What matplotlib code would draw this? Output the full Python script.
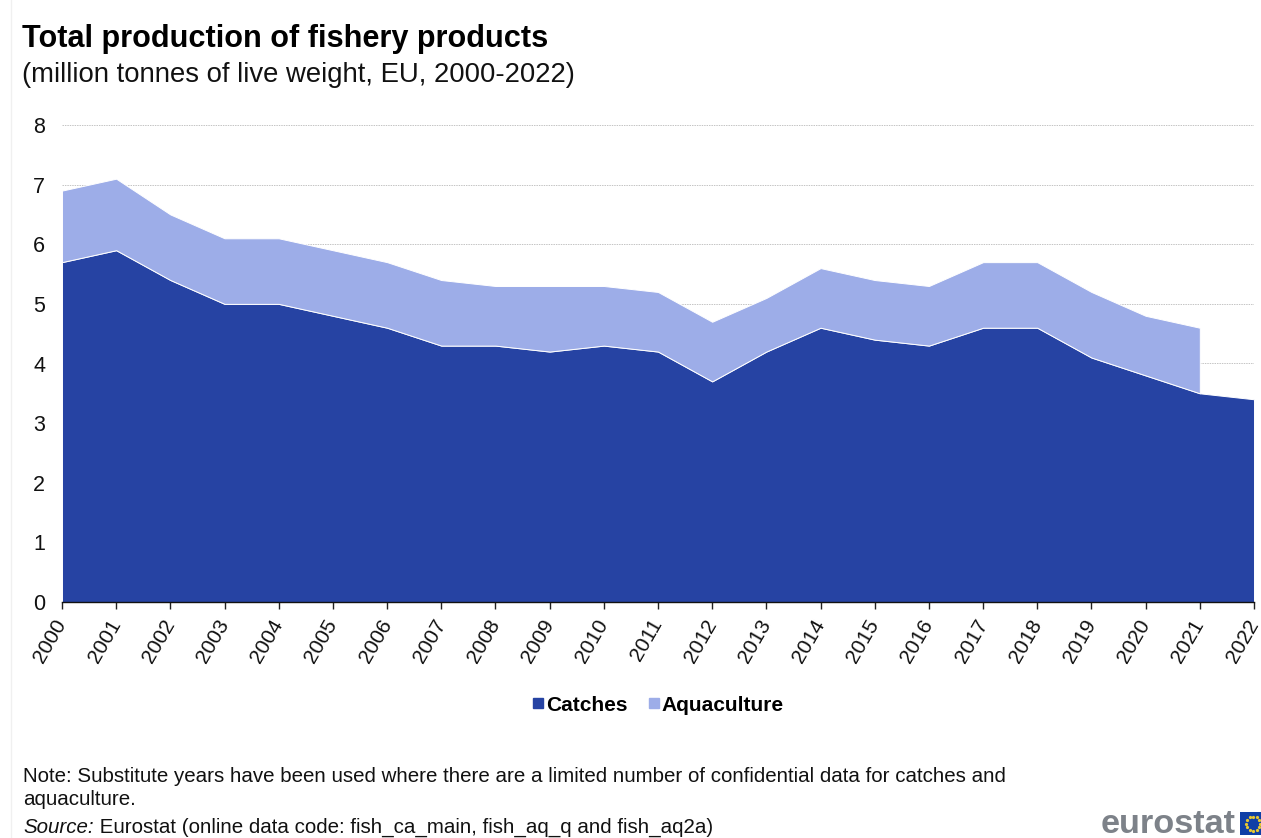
import numpy as np
import matplotlib.pyplot as plt
from matplotlib.patches import Rectangle
from matplotlib.lines import Line2D

plt.rcParams['font.family'] = ['Liberation Sans', 'DejaVu Sans']

W, H = 1261, 838

years = list(range(2000, 2023))
catches = [5.7, 5.9, 5.4, 5.0, 5.0, 4.8, 4.6, 4.3, 4.3, 4.2, 4.3, 4.2,
           3.7, 4.2, 4.6, 4.4, 4.3, 4.6, 4.6, 4.1, 3.8, 3.5, 3.4]
aquaculture = [1.2, 1.2, 1.1, 1.1, 1.1, 1.1, 1.1, 1.1, 1.0, 1.1, 1.0, 1.0,
               1.0, 0.9, 1.0, 1.0, 1.0, 1.1, 1.1, 1.1, 1.0, 1.1, np.nan]
y_ticks = [0, 1, 2, 3, 4, 5, 6, 7, 8]

title = 'Total production of fishery products'
subtitle = '(million tonnes of live weight, EU, 2000-2022)'
note = ('Note: Substitute years have been used where there are a limited number of confidential data for catches and\n'
        'aquaculture.')
source = ' Eurostat (online data code: fish_ca_main, fish_aq_q and fish_aq2a)'

DARK = '#2643a3'
LIGHT = '#9dade8'


def px(x, y):
    """ピクセル座標 (左上原点) を figure 座標に変換"""
    return x / W, 1 - y / H


fig = plt.figure(figsize=(W / 100, H / 100), dpi=100)
ax = fig.add_axes([62 / W, 1 - 602 / H, (1254 - 62) / W, (602 - 125) / H])

ax.stackplot(years, catches, aquaculture, colors=[DARK, LIGHT],
             edgecolor='white', linewidth=0.7, zorder=3)

ax.set_xlim(2000, 2022)
ax.set_ylim(0, 8)
ax.set_yticks(y_ticks)
ax.set_xticks(years)
ax.set_xticklabels(years, rotation=60, ha='right', va='center', rotation_mode='anchor')
ax.tick_params(axis='x', length=5, width=1, labelsize=15, pad=8.5, color='#222222', labelcolor='#111111')
ax.tick_params(axis='y', length=0, labelsize=15.5, pad=12, labelcolor='#111111')
ax.grid(axis='y', color='#c4c4c4', linestyle=(0, (1.5, 1)), linewidth=0.7, zorder=0)
ax.set_axisbelow(True)
for s in ['top', 'right', 'left']:
    ax.spines[s].set_visible(False)
ax.spines['bottom'].set_color('#111111')
ax.spines['bottom'].set_linewidth(1)
ax.spines['bottom'].set_zorder(5)

# 凡例
handles = [Line2D([], [], marker='s', linestyle='none', color=DARK, markersize=6.5),
           Line2D([], [], marker='s', linestyle='none', color=LIGHT, markersize=6.5)]
fig.legend(handles, ['Catches', 'Aquaculture'], loc='center', bbox_to_anchor=px(658, 705),
           ncol=2, frameon=False, handlelength=0.6, handletextpad=0.05, columnspacing=1.0,
           prop={'size': 15, 'weight': 'bold'})

# タイトル
fig.text(*px(22, 39), title, fontsize=22.1, fontweight='bold', va='center', color='black')
fig.text(*px(22, 75), subtitle, fontsize=19.8, va='center', color='#111111')

# 注記
fig.text(*px(23, 788), note, fontsize=14.8, va='center', color='#111111', linespacing=1.27)
t = fig.text(*px(23, 827), 'Source:', fontsize=14.8, style='italic', va='center', color='#111111')
fig.canvas.draw()
bb = t.get_window_extent()
fig.text(bb.x1 / W, 1 - 827 / H, source, fontsize=14.8, va='center', color='#111111')

# 左端の薄い縦線
fig.add_artist(Line2D([11 / W, 11 / W], [0, 1], color='#f0f0f0', linewidth=1))

# eurostat ロゴ
fig.text(*px(1236, 824), 'eurostat', fontsize=24.7, fontweight='bold', color='#7d8289', ha='right', va='center')
fx, fy = px(1240, 835)
fig.add_artist(Rectangle((fx, fy), 21 / W, 23 / H, transform=fig.transFigure, facecolor='#0f3fa6', edgecolor='none'))
ang = np.linspace(0, 2 * np.pi, 12, endpoint=False)
fig.add_artist(Line2D((1253 + 7 * np.cos(ang)) / W, (1 - 823.5 / H) + 7 * np.sin(ang) / H,
                      linestyle='none', marker='o', markersize=1.3, color='#e8c832'))

fig.savefig('out.png', dpi=100)
